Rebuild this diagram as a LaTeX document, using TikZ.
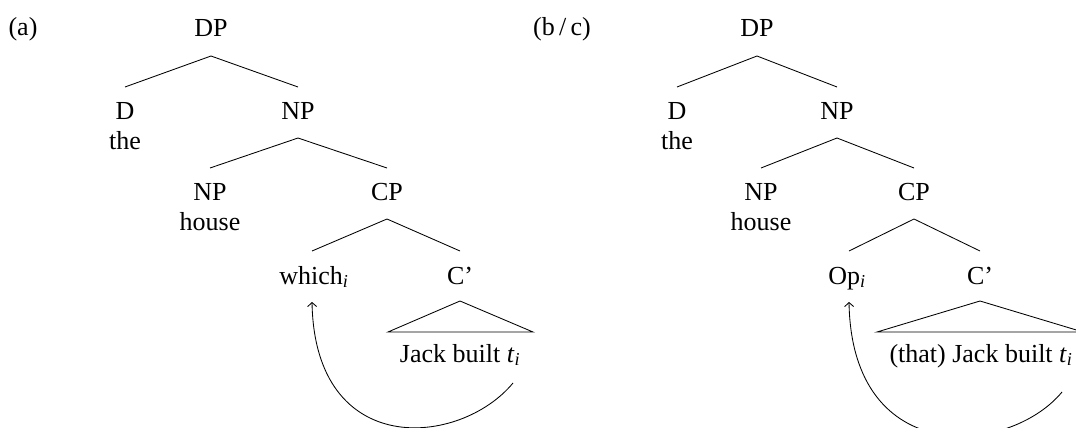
\documentclass[tikz,border=0pt]{standalone}
\usepackage{fontspec}
\setmainfont{Liberation Serif}
\usetikzlibrary{calc,arrows.meta}
\newcommand{\tri}{\textit{t}\textsubscript{\textit{i}}}
\begin{document}
\begin{tikzpicture}[x=1pt,y=-1pt,
  lbl/.style={anchor=base,inner sep=0pt,font=\fontsize{26}{31}\selectfont},
  br/.style={line width=0.85pt},
  mv/.style={line width=0.85pt,-{Straight Barb[length=4pt,width=9pt,line width=0.85pt]}}]
\useasboundingbox (0,0) rectangle (1076,428);
\clip (0,0) rectangle (1076,428);
% (a)
\node[lbl] (la) at (23,36) {(a)};
\node[lbl] (DPa) at (211,37) {DP};
\node[lbl] (Da) at (125,119) {D};
\node[lbl] (thea) at (125,149) {the};
\node[lbl] (NPa) at (298,119) {NP};
\node[lbl] (NPha) at (210,200) {NP};
\node[lbl] (housea) at (210,230) {house};
\node[lbl] (CPa) at (387,200) {CP};
\node[lbl] (whicha) at (314,284) {which\textsubscript{\textit{i}}};
\node[lbl] (Cpa) at (460,284) {C’};
\node[lbl] (Jacka) at (460,362) {Jack built \tri};
\draw[br] ($(Da.base)+(0,-32)$) -- ($(DPa.base)+(0,19)$) -- ($(NPa.base)+(0,-32)$);
\draw[br] ($(NPha.base)+(0,-32)$) -- ($(NPa.base)+(0,19)$) -- ($(CPa.base)+(0,-32)$);
\draw[br] ($(whicha.base)+(-2,-33)$) -- ($(CPa.base)+(0,19)$) -- ($(Cpa.base)+(0,-33)$);
\draw[br] ($(Jacka.base)+(-72,-30)$) -- ($(Cpa.base)+(0,17)$) -- ($(Jacka.base)+(73,-30)$) -- cycle;
\draw[mv] ($(Jacka.base)+(53,21)$) .. controls ($(Jacka.base)+(0,85)$) and ($(whicha.base)+(1,176)$) .. ($(whicha.base)+(-2,18)$);
% (b/c)
\node[lbl] (lb) at (562,36) {(b\,/\,c)};
\node[lbl] (DPb) at (757,37) {DP};
\node[lbl] (Db) at (677,119) {D};
\node[lbl] (theb) at (677,149) {the};
\node[lbl] (NPb) at (837,119) {NP};
\node[lbl] (NPhb) at (761,200) {NP};
\node[lbl] (houseb) at (761,230) {house};
\node[lbl] (CPb) at (914,200) {CP};
\node[lbl] (Opb) at (847,284) {Op\textsubscript{\textit{i}}};
\node[lbl] (Cpb) at (980,284) {C’};
\node[lbl] (Jackb) at (981,362) {(that) Jack built \tri};
\draw[br] ($(Db.base)+(0,-32)$) -- ($(DPb.base)+(0,19)$) -- ($(NPb.base)+(0,-32)$);
\draw[br] ($(NPhb.base)+(0,-32)$) -- ($(NPb.base)+(0,19)$) -- ($(CPb.base)+(0,-32)$);
\draw[br] ($(Opb.base)+(2,-33)$) -- ($(CPb.base)+(0,19)$) -- ($(Cpb.base)+(0,-33)$);
\draw[br] ($(Jackb.base)+(-104,-30)$) -- ($(Cpb.base)+(0,17)$) -- ($(Jackb.base)+(102,-30)$) -- cycle;
\draw[mv] ($(Jackb.base)+(81,30)$) .. controls ($(Jackb.base)+(29,93)$) and ($(Opb.base)+(5,186)$) .. ($(Opb.base)+(2,18)$);
\end{tikzpicture}
\end{document}
